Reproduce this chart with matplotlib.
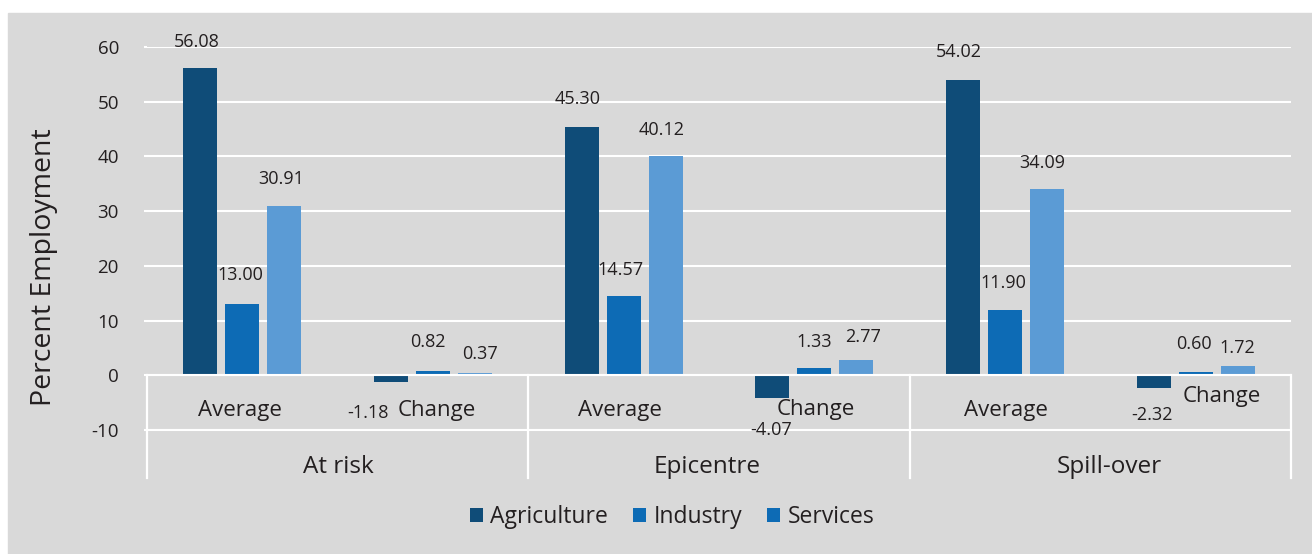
"""Employment shares by sector: average and change, for three region types."""

import matplotlib
matplotlib.use('Agg')
import matplotlib.pyplot as plt
from matplotlib.patches import Patch, Rectangle
import numpy as np

# --- data ---
groups = ['At risk', 'Epicentre', 'Spill-over']
measures = ['Average', 'Change']
sectors = ['Agriculture', 'Industry', 'Services']

agriculture = [56.08, -1.18, 45.30, -4.07, 54.02, -2.32]
industry = [13.00, 0.82, 14.57, 1.33, 11.90, 0.60]
services = [30.91, 0.37, 40.12, 2.77, 34.09, 1.72]

y_ticks = [-10, 0, 10, 20, 30, 40, 50, 60]

# --- styling ---
COLORS = ['#0f4c78', '#0d6bb5', '#5b9bd5']
LEGEND_COLORS = ['#0f4c78', '#0d6bb5', '#0d6bb5']  # reference legend reuses the Industry blue
BG = '#d9d9d9'
TEXT = '#231f20'
FONT = ['Open Sans', 'DejaVu Sans']

plt.rcParams['font.family'] = FONT

# label centre offsets (px) from the bar end, as placed in the original
label_offsets = [
    [(-3.5, 28), (-23, -30), (-4, 30), (-1, -31), (-4, 29), (-2, -26)],
    [(-1.5, 31), (-5, 30.5), (-3.5, 27.5), (0, 28), (-1.5, 29), (-2, 30)],
    [(-3, 28.5), (5, 21), (-4, 27.5), (7, 25), (-5, 27.5), (0, 19)],
]
# sub-category label offsets (dx, baseline below zero line) in px
measure_offsets = [(-2, 41), (4, 41), (-4, 41), (1, 40), (1, 41), (26, 27)]
group_offsets = [1, -12, 9]

fig = plt.figure(figsize=(13.12, 5.54), dpi=100, facecolor='white')
fig.patches.append(Rectangle((8 / 1312, 0), 1 - 8 / 1312, (554 - 13) / 554,
                             transform=fig.transFigure, color=BG, zorder=-10))

ax = fig.add_axes([147 / 1312, (554 - 430) / 554, 1144 / 1312, 383 / 554])
ax.set_facecolor('none')

n_cat = len(groups) * len(measures)
x = np.arange(n_cat) + 0.5
offset = 0.22
width = 0.178

series = [agriculture, industry, services]
for i, (vals, color) in enumerate(zip(series, COLORS)):
    xs = x + (i - 1) * offset
    ax.bar(xs, vals, width=width, color=color, zorder=2)
    for j, (xv, v) in enumerate(zip(xs, vals)):
        dx, dy = label_offsets[i][j]
        # baseline sits half a digit height below the visual centre
        ax.annotate(f'{v:.2f}', xy=(xv, v), xytext=(dx, dy - 6.5),
                    textcoords='offset pixels', ha='center', va='baseline',
                    fontsize=13, color=TEXT, zorder=5)

ax.set_xlim(0, n_cat)
ax.set_ylim(y_ticks[0], y_ticks[-1])
ax.set_yticks(y_ticks)
ax.set_yticklabels([str(t) for t in y_ticks])
ax.set_xticks([])
for s in ax.spines.values():
    s.set_visible(False)

ax.tick_params(axis='y', colors='white', length=2.2, width=1.5, pad=18,
               labelsize=13.5, labelcolor=TEXT)
ax.yaxis.grid(True, color='white', linewidth=1.5, zorder=0.5)
ax.set_axisbelow(True)

# zero axis and category axis frame
ax.axhline(0, color='white', linewidth=1.5, zorder=3)
ax.axhline(y_ticks[0], color='white', linewidth=1.5, zorder=3, clip_on=False)
px = ax.bbox.height / (y_ticks[-1] - y_ticks[0])
y_low = -103 / px
for b in range(0, n_cat + 1, len(measures)):
    ax.plot([b, b], [0, y_low], color='white', linewidth=1.6,
            clip_on=False, zorder=3)

for j, xv in enumerate(x):
    dx, dy = measure_offsets[j]
    ax.annotate(measures[j % len(measures)], xy=(xv, 0), xytext=(dx, -dy),
                textcoords='offset pixels', ha='center', va='baseline',
                fontsize=16, color=TEXT, annotation_clip=False)

for g, name in enumerate(groups):
    gx = g * len(measures) + len(measures) / 2
    ax.annotate(name, xy=(gx, 0), xytext=(group_offsets[g], -98),
                textcoords='offset pixels', ha='center', va='baseline',
                fontsize=17.5, color=TEXT, annotation_clip=False)

fig.text(44 / 1312, 1 - 267 / 554, 'Percent Employment', rotation=90,
         ha='center', va='center', fontsize=20.5, color=TEXT)

handles = [Patch(facecolor=c, edgecolor='none') for c in LEGEND_COLORS]
fig.legend(handles, sectors, loc='center', bbox_to_anchor=(672 / 1312, 1 - 517 / 554),
           ncol=3, frameon=False, fontsize=16.5, handlelength=0.58, handleheight=0.58,
           handletextpad=0.3, columnspacing=1.1, labelcolor=TEXT)

fig.savefig('out.png', dpi=100, facecolor='white')
